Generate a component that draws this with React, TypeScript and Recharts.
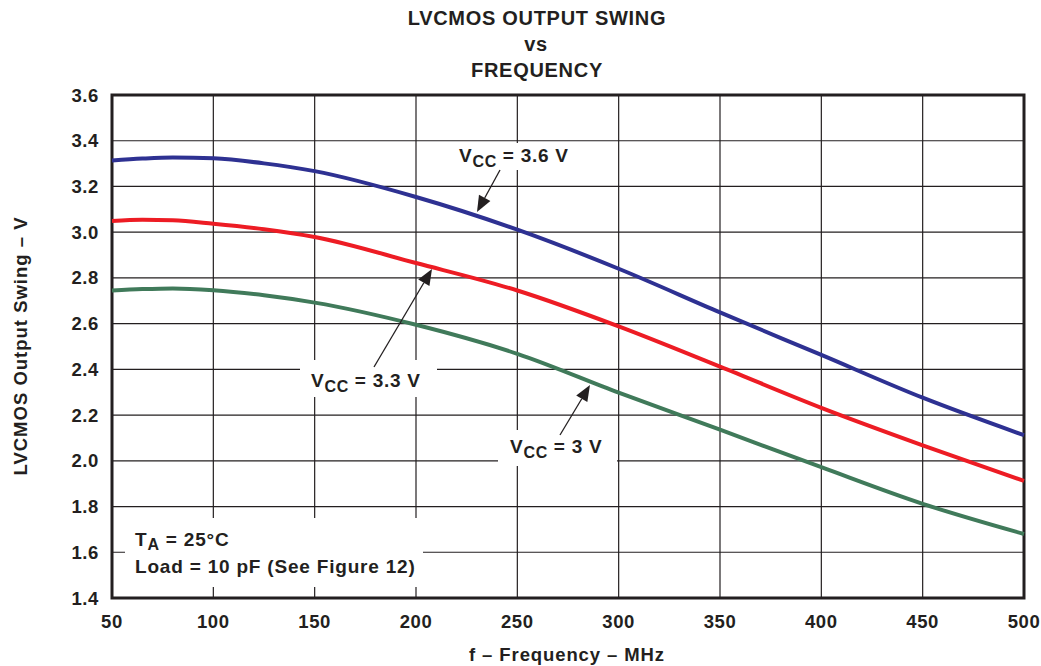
import { LineChart, Line, XAxis, YAxis, CartesianGrid, ReferenceArea } from "recharts";

// frequency in MHz
const freq = [50, 65, 80, 100, 125, 150, 200, 250, 300, 350, 400, 450, 500];
// output swing in V for each supply voltage
const vcc36 = [3.313, 3.322, 3.327, 3.323, 3.301, 3.267, 3.154, 3.011, 2.84, 2.649, 2.463, 2.276, 2.112];
const vcc33 = [3.049, 3.054, 3.052, 3.037, 3.013, 2.979, 2.865, 2.745, 2.588, 2.412, 2.232, 2.068, 1.912];
const vcc30 = [2.745, 2.751, 2.754, 2.746, 2.724, 2.692, 2.595, 2.468, 2.298, 2.136, 1.972, 1.812, 1.68];

const xTicks = [50, 100, 150, 200, 250, 300, 350, 400, 450, 500];
const yTicks = [1.4, 1.6, 1.8, 2.0, 2.2, 2.4, 2.6, 2.8, 3.0, 3.2, 3.4, 3.6];

const data = freq.map((f, i) => ({ f, v36: vcc36[i], v33: vcc33[i], v30: vcc30[i] }));

const FONT = "'Liberation Sans', Arial, Helvetica, sans-serif";
const W = 1041;
const H = 666;

const textStyle = { fontFamily: FONT, fontWeight: 700, fill: "#231f20" } as const;

const Arrow = ({ x1, y1, x2, y2 }: { x1: number; y1: number; x2: number; y2: number }) => {
  const ang = Math.atan2(y2 - y1, x2 - x1);
  const len = 16;
  const half = 6.5;
  const bx = x2 - len * Math.cos(ang);
  const by = y2 - len * Math.sin(ang);
  const px = -Math.sin(ang) * half;
  const py = Math.cos(ang) * half;
  return (
    <g>
      <line x1={x1} y1={y1} x2={bx} y2={by} stroke="#231f20" strokeWidth={1.3} />
      <polygon points={`${x2},${y2} ${bx + px},${by + py} ${bx - px},${by - py}`} fill="#231f20" />
    </g>
  );
};

const VccLabel = ({ x, y, value }: { x: number; y: number; value: string }) => (
  <text x={x} y={y} fontSize={19} style={{ ...textStyle, letterSpacing: 0.7 }}>
    <tspan>V</tspan>
    <tspan dy={5} fontSize={16}>CC</tspan>
    <tspan dy={-5}>{` = ${value} V`}</tspan>
  </text>
);

const Overlay = () => (
  <svg width={W} height={H} style={{ position: "absolute", left: 0, top: 0 }}>
    {/* title */}
    <text x={537} y={25} textAnchor="middle" fontSize={20} style={{ ...textStyle, letterSpacing: 0.7 }}>
      LVCMOS OUTPUT SWING
    </text>
    <text x={536} y={51} textAnchor="middle" fontSize={20} style={{ ...textStyle, letterSpacing: 0.7 }}>
      vs
    </text>
    <text x={537} y={77} textAnchor="middle" fontSize={20} style={{ ...textStyle, letterSpacing: 0.7 }}>
      FREQUENCY
    </text>

    {/* axis titles */}
    <text x={567} y={661} textAnchor="middle" fontSize={18.5} style={{ ...textStyle, letterSpacing: 0.9 }}>
      f – Frequency – MHz
    </text>
    <text
      x={0}
      y={0}
      transform="translate(27,346) rotate(-90)"
      textAnchor="middle"
      fontSize={18.5}
      style={{ ...textStyle, letterSpacing: 1.0 }}
    >
      LVCMOS Output Swing – V
    </text>

    {/* annotation backgrounds */}
    <rect x={455} y={143} width={123} height={27} fill="#fff" />
    <rect x={300} y={360} width={137} height={37} fill="#fff" />
    <rect x={498} y={430} width={119} height={36} fill="#fff" />
    <rect x={125} y={518} width={298} height={69} fill="#fff" />

    <VccLabel x={459} y={162} value="3.6" />
    <VccLabel x={311} y={387} value="3.3" />
    <VccLabel x={510} y={453} value="3" />

    <Arrow x1={500} y1={170} x2={477} y2={212} />
    <Arrow x1={374} y1={367} x2={432} y2={269} />
    <Arrow x1={560} y1={435} x2={590} y2={385} />

    <text x={135} y={546} fontSize={19} style={{ ...textStyle, letterSpacing: 0.8 }}>
      <tspan>T</tspan>
      <tspan dy={4} fontSize={16}>A</tspan>
      <tspan dy={-4}> = 25°C</tspan>
    </text>
    <text x={135} y={573} fontSize={19} style={{ ...textStyle, letterSpacing: 0.8 }}>
      Load = 10 pF (See Figure 12)
    </text>
  </svg>
);

export default function App() {
  return (
    <div style={{ position: "absolute", left: 0, top: 0, width: W, height: H, background: "#fff" }}>
      <LineChart width={W} height={H} data={data} margin={{ top: 95, right: 17, bottom: 28, left: 0 }}>
        <CartesianGrid stroke="#231f20" strokeWidth={1.2} />
        <XAxis
          dataKey="f"
          type="number"
          domain={[50, 500]}
          ticks={xTicks}
          height={40}
          axisLine={false}
          tickLine={false}
          tickMargin={11}
          interval={0}
          tick={{ fontSize: 18.5, fontFamily: FONT, fontWeight: 700, fill: "#231f20", letterSpacing: 0.6 }}
        />
        <YAxis
          type="number"
          domain={[1.4, 3.6]}
          ticks={yTicks}
          width={112}
          axisLine={false}
          tickLine={false}
          tickMargin={7}
          interval={0}
          tickFormatter={(v: number) => v.toFixed(1)}
          tick={{ fontSize: 18.5, fontFamily: FONT, fontWeight: 700, fill: "#231f20", letterSpacing: 0.6 }}
        />
        <ReferenceArea x1={50} x2={500} y1={1.4} y2={3.6} fill="none" stroke="#231f20" strokeWidth={3} />
        <Line type="monotone" dataKey="v36" stroke="#2e3192" strokeWidth={4} dot={false} isAnimationActive={false} />
        <Line type="monotone" dataKey="v33" stroke="#ed1c24" strokeWidth={4} dot={false} isAnimationActive={false} />
        <Line type="monotone" dataKey="v30" stroke="#407a5a" strokeWidth={4} dot={false} isAnimationActive={false} />
      </LineChart>
      <Overlay />
    </div>
  );
}
